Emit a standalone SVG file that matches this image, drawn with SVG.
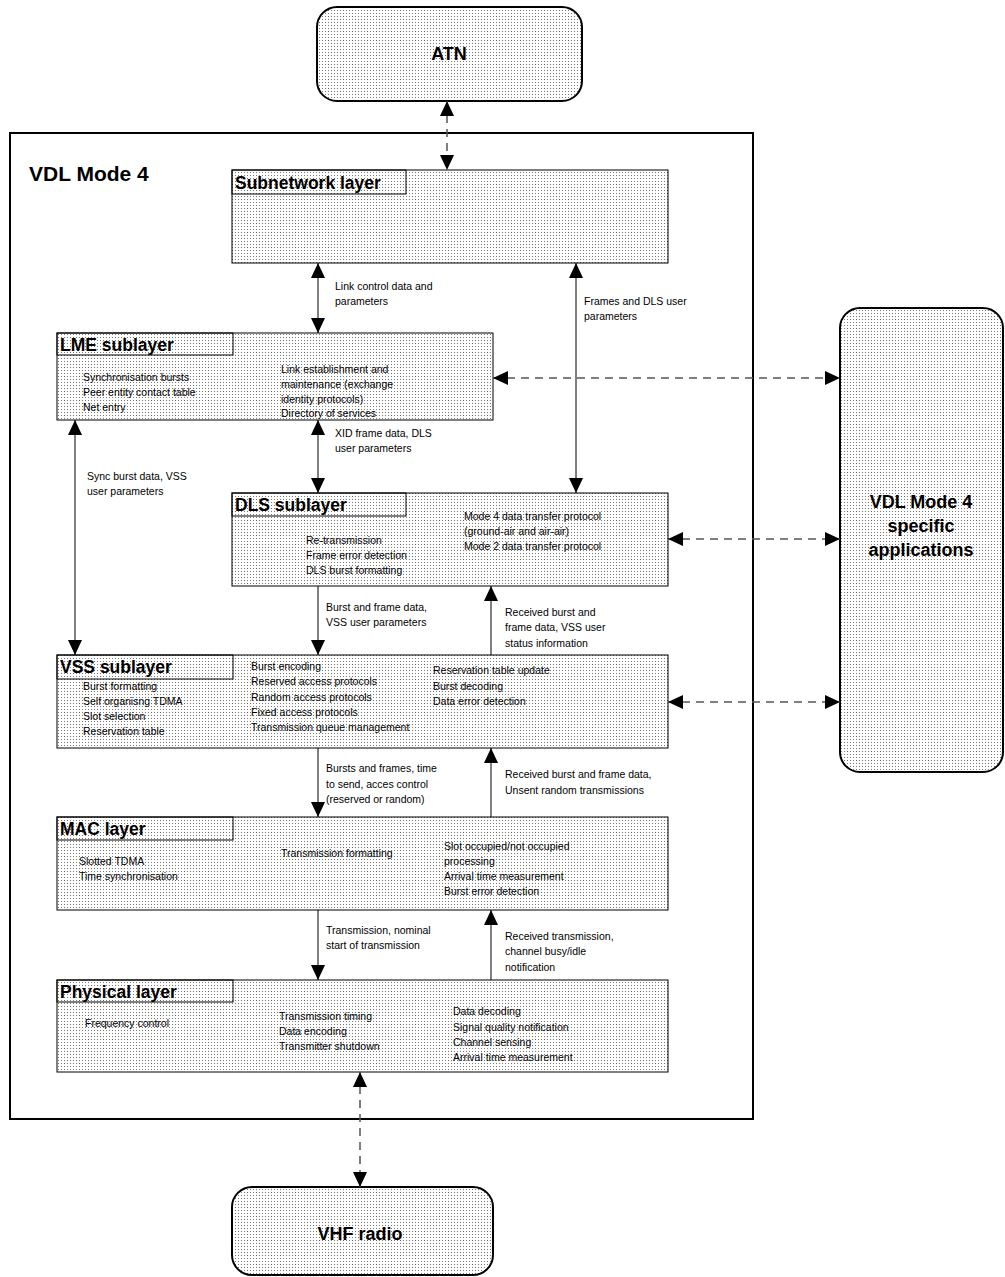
<svg xmlns="http://www.w3.org/2000/svg" width="1005" height="1277" viewBox="0 0 1005 1277">
<style>
.box{fill:url(#dots);stroke:#000;stroke-width:1}
.tab{fill:none;stroke:#000;stroke-width:1}
.rnd{fill:url(#dots);stroke:#000;stroke-width:2}
.tt{font-family:"Liberation Sans",Arial,sans-serif;font-weight:bold;font-size:17.5px;fill:#000}
.big{font-family:"Liberation Sans",Arial,sans-serif;font-weight:bold;font-size:18px;fill:#000;text-anchor:middle}
.it{font-family:"Liberation Sans",Arial,sans-serif;font-size:10.5px;fill:#000}
.sol{stroke:#000;stroke-width:1;fill:none}
.dash{stroke:#555;stroke-width:1.5;fill:none;stroke-dasharray:8 6}
</style>
<defs>
<pattern id="dots" width="3" height="3" patternUnits="userSpaceOnUse">
<rect width="3" height="3" fill="#fff"/>
<rect x="1" y="1" width="1" height="1" fill="#777"/>
</pattern>
<marker id="ah" viewBox="0 0 15 14" refX="15" refY="7" markerWidth="15" markerHeight="14" markerUnits="userSpaceOnUse" orient="auto-start-reverse">
<path d="M0,0 L15,7 L0,14 Z" fill="#000"/>
</marker>
</defs>
<rect x="0" y="0" width="1005" height="1277" fill="#fff"/>
<rect id="frame" x="10" y="133" width="743" height="986" fill="none" stroke="#000" stroke-width="2"/>
<text class="tt" x="29" y="181" style="font-size:21px">VDL Mode 4</text>

<g id="atn"><rect class="rnd" x="317" y="7" width="265" height="94" rx="20"/><text class="big" x="449" y="60">ATN</text></g>
<g id="apps"><rect class="rnd" x="840" y="308" width="163" height="464" rx="20"/><text class="big" x="921" y="508">VDL Mode 4</text><text class="big" x="921" y="532">specific</text><text class="big" x="921" y="556">applications</text></g>
<g id="vhf"><rect class="rnd" x="232" y="1187" width="261" height="88" rx="20"/><text class="big" x="360" y="1240">VHF radio</text></g>

<g id="subnetwork"><rect class="box" x="232" y="170" width="436" height="93"/><rect class="tab" x="232" y="170" width="174" height="24"/><text class="tt" x="235" y="189">Subnetwork layer</text></g>

<g id="lme"><rect class="box" x="57" y="333" width="436" height="87"/><rect class="tab" x="57" y="333" width="176" height="22"/><text class="tt" x="60" y="351">LME sublayer</text>
<text class="it" x="83" y="381">Synchronisation bursts</text><text class="it" x="83" y="396">Peer entity contact table</text><text class="it" x="83" y="411">Net entry</text>
<text class="it" x="281" y="373">Link establishment and</text><text class="it" x="281" y="388">maintenance (exchange</text><text class="it" x="281" y="403">identity protocols)</text><text class="it" x="281" y="417">Directory of services</text></g>

<g id="dls"><rect class="box" x="232" y="493" width="436" height="93"/><rect class="tab" x="232" y="493" width="174" height="23"/><text class="tt" x="235" y="511">DLS sublayer</text>
<text class="it" x="306" y="544">Re-transmission</text><text class="it" x="306" y="559">Frame error detection</text><text class="it" x="306" y="574">DLS burst formatting</text>
<text class="it" x="464" y="520">Mode 4 data transfer protocol</text><text class="it" x="464" y="535">(ground-air and air-air)</text><text class="it" x="464" y="550">Mode 2 data transfer protocol</text></g>

<g id="vss"><rect class="box" x="57" y="655" width="611" height="93"/><rect class="tab" x="57" y="655" width="176" height="24"/><text class="tt" x="60" y="673">VSS sublayer</text>
<text class="it" x="83" y="690">Burst formatting</text><text class="it" x="83" y="705">Self organisng TDMA</text><text class="it" x="83" y="720">Slot selection</text><text class="it" x="83" y="735">Reservation table</text>
<text class="it" x="251" y="670">Burst encoding</text><text class="it" x="251" y="685">Reserved access protocols</text><text class="it" x="251" y="701">Random access protocols</text><text class="it" x="251" y="716">Fixed access protocols</text><text class="it" x="251" y="731">Transmission queue management</text>
<text class="it" x="433" y="674">Reservation table update</text><text class="it" x="433" y="690">Burst decoding</text><text class="it" x="433" y="705">Data error detection</text></g>

<g id="mac"><rect class="box" x="57" y="817" width="611" height="93"/><rect class="tab" x="57" y="817" width="176" height="23"/><text class="tt" x="60" y="835">MAC layer</text>
<text class="it" x="79" y="865">Slotted TDMA</text><text class="it" x="79" y="880">Time synchronisation</text>
<text class="it" x="281" y="857">Transmission formatting</text>
<text class="it" x="444" y="850">Slot occupied/not occupied</text><text class="it" x="444" y="865">processing</text><text class="it" x="444" y="880">Arrival time measurement</text><text class="it" x="444" y="895">Burst error detection</text></g>

<g id="physical"><rect class="box" x="57" y="980" width="611" height="92"/><rect class="tab" x="57" y="980" width="176" height="22"/><text class="tt" x="60" y="998">Physical layer</text>
<text class="it" x="85" y="1027">Frequency control</text>
<text class="it" x="279" y="1020">Transmission timing</text><text class="it" x="279" y="1035">Data encoding</text><text class="it" x="279" y="1050">Transmitter shutdown</text>
<text class="it" x="453" y="1015">Data decoding</text><text class="it" x="453" y="1031">Signal quality notification</text><text class="it" x="453" y="1046">Channel sensing</text><text class="it" x="453" y="1061">Arrival time measurement</text></g>

<g id="connectors">
<line class="dash" x1="447" y1="101" x2="447" y2="170" marker-start="url(#ah)" marker-end="url(#ah)"/>
<line class="dash" x1="360" y1="1072" x2="360" y2="1187" marker-start="url(#ah)" marker-end="url(#ah)"/>
<line class="dash" x1="493" y1="378" x2="840" y2="378" marker-start="url(#ah)" marker-end="url(#ah)"/>
<line class="dash" x1="668" y1="539" x2="840" y2="539" marker-start="url(#ah)" marker-end="url(#ah)"/>
<line class="dash" x1="668" y1="702" x2="840" y2="702" marker-start="url(#ah)" marker-end="url(#ah)"/>
<line class="sol" x1="318" y1="263" x2="318" y2="333" marker-start="url(#ah)" marker-end="url(#ah)"/>
<line class="sol" x1="576" y1="263" x2="576" y2="493" marker-start="url(#ah)" marker-end="url(#ah)"/>
<line class="sol" x1="318" y1="420" x2="318" y2="493" marker-start="url(#ah)" marker-end="url(#ah)"/>
<line class="sol" x1="75" y1="420" x2="75" y2="655" marker-start="url(#ah)" marker-end="url(#ah)"/>
<line class="sol" x1="318" y1="586" x2="318" y2="655" marker-end="url(#ah)"/>
<line class="sol" x1="491" y1="655" x2="491" y2="586" marker-end="url(#ah)"/>
<line class="sol" x1="318" y1="748" x2="318" y2="817" marker-end="url(#ah)"/>
<line class="sol" x1="491" y1="817" x2="491" y2="748" marker-end="url(#ah)"/>
<line class="sol" x1="318" y1="910" x2="318" y2="980" marker-end="url(#ah)"/>
<line class="sol" x1="491" y1="980" x2="491" y2="910" marker-end="url(#ah)"/>
<text class="it" x="335" y="290">Link control data and</text><text class="it" x="335" y="305">parameters</text>
<text class="it" x="584" y="305">Frames and DLS user</text><text class="it" x="584" y="320">parameters</text>
<text class="it" x="335" y="437">XID frame data, DLS</text><text class="it" x="335" y="452">user parameters</text>
<text class="it" x="87" y="480">Sync burst data, VSS</text><text class="it" x="87" y="495">user parameters</text>
<text class="it" x="326" y="611">Burst and frame data,</text><text class="it" x="326" y="626">VSS user parameters</text>
<text class="it" x="505" y="616">Received burst and</text><text class="it" x="505" y="631">frame data, VSS user</text><text class="it" x="505" y="647">status information</text>
<text class="it" x="326" y="772">Bursts and frames, time</text><text class="it" x="326" y="788">to send, acces control</text><text class="it" x="326" y="803">(reserved or random)</text>
<text class="it" x="505" y="778">Received burst and frame data,</text><text class="it" x="505" y="794">Unsent random transmissions</text>
<text class="it" x="326" y="934">Transmission, nominal</text><text class="it" x="326" y="949">start of transmission</text>
<text class="it" x="505" y="940">Received transmission,</text><text class="it" x="505" y="955">channel busy/idle</text><text class="it" x="505" y="971">notification</text>
</g>
</svg>
